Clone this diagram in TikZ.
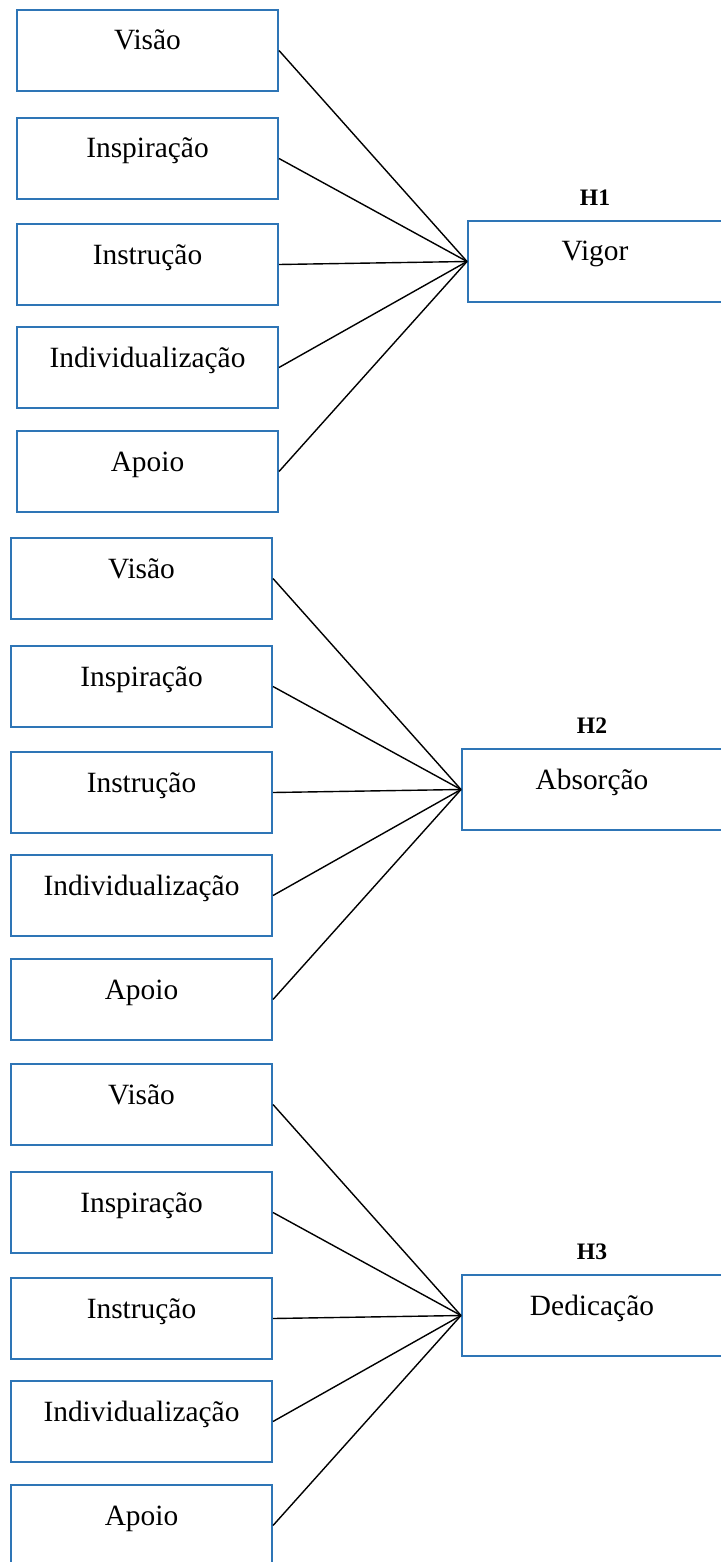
\documentclass[tikz,border=0pt]{standalone}
\usepackage{fontspec}
\setmainfont{Liberation Serif}
\usetikzlibrary{positioning}
\definecolor{azulcaixa}{RGB}{46,117,182}

\begin{document}
\begin{tikzpicture}[x=0.5pt,y=-0.5pt,
  caixa/.style={draw=azulcaixa, line width=1pt, inner sep=0pt, anchor=north west,
    minimum width=130.5pt, text height=20pt, text depth=20.5pt,
    font=\fontsize{14.7}{17}\selectfont},
  hip/.style={inner sep=0pt, font=\fontsize{11.8}{14}\selectfont\bfseries},
  liga/.style={black, line width=0.7pt}]

%page size
\useasboundingbox (0,0) rectangle (720,1562);

%three groups: dimensions -> H
\foreach \grp/\xe/\ya/\xd/\lw/\alvotxt in {1/16/9/467/127/Vigor, 2/10/537/461/130/Absorção, 3/10/1063/461/130/Dedicação}
  {
  \node[caixa, minimum width=\lw pt] (alvo\grp) at (\xd,\ya+211) {\alvotxt};
  \node[hip, above=7pt of alvo\grp] (hip\grp) {H\grp};
  \foreach \nm/\rel/\txt in {vis/0/Visão, ins/108/Inspiração, inst/214/Instrução, ind/317/Individualização, apo/421/Apoio}
    {
    \node[caixa] (\nm\grp) at (\xe,\ya+\rel) {\txt};
    \draw[liga] (\nm\grp.east) -- (alvo\grp.west);
    }
  }

\end{tikzpicture}
\end{document}
